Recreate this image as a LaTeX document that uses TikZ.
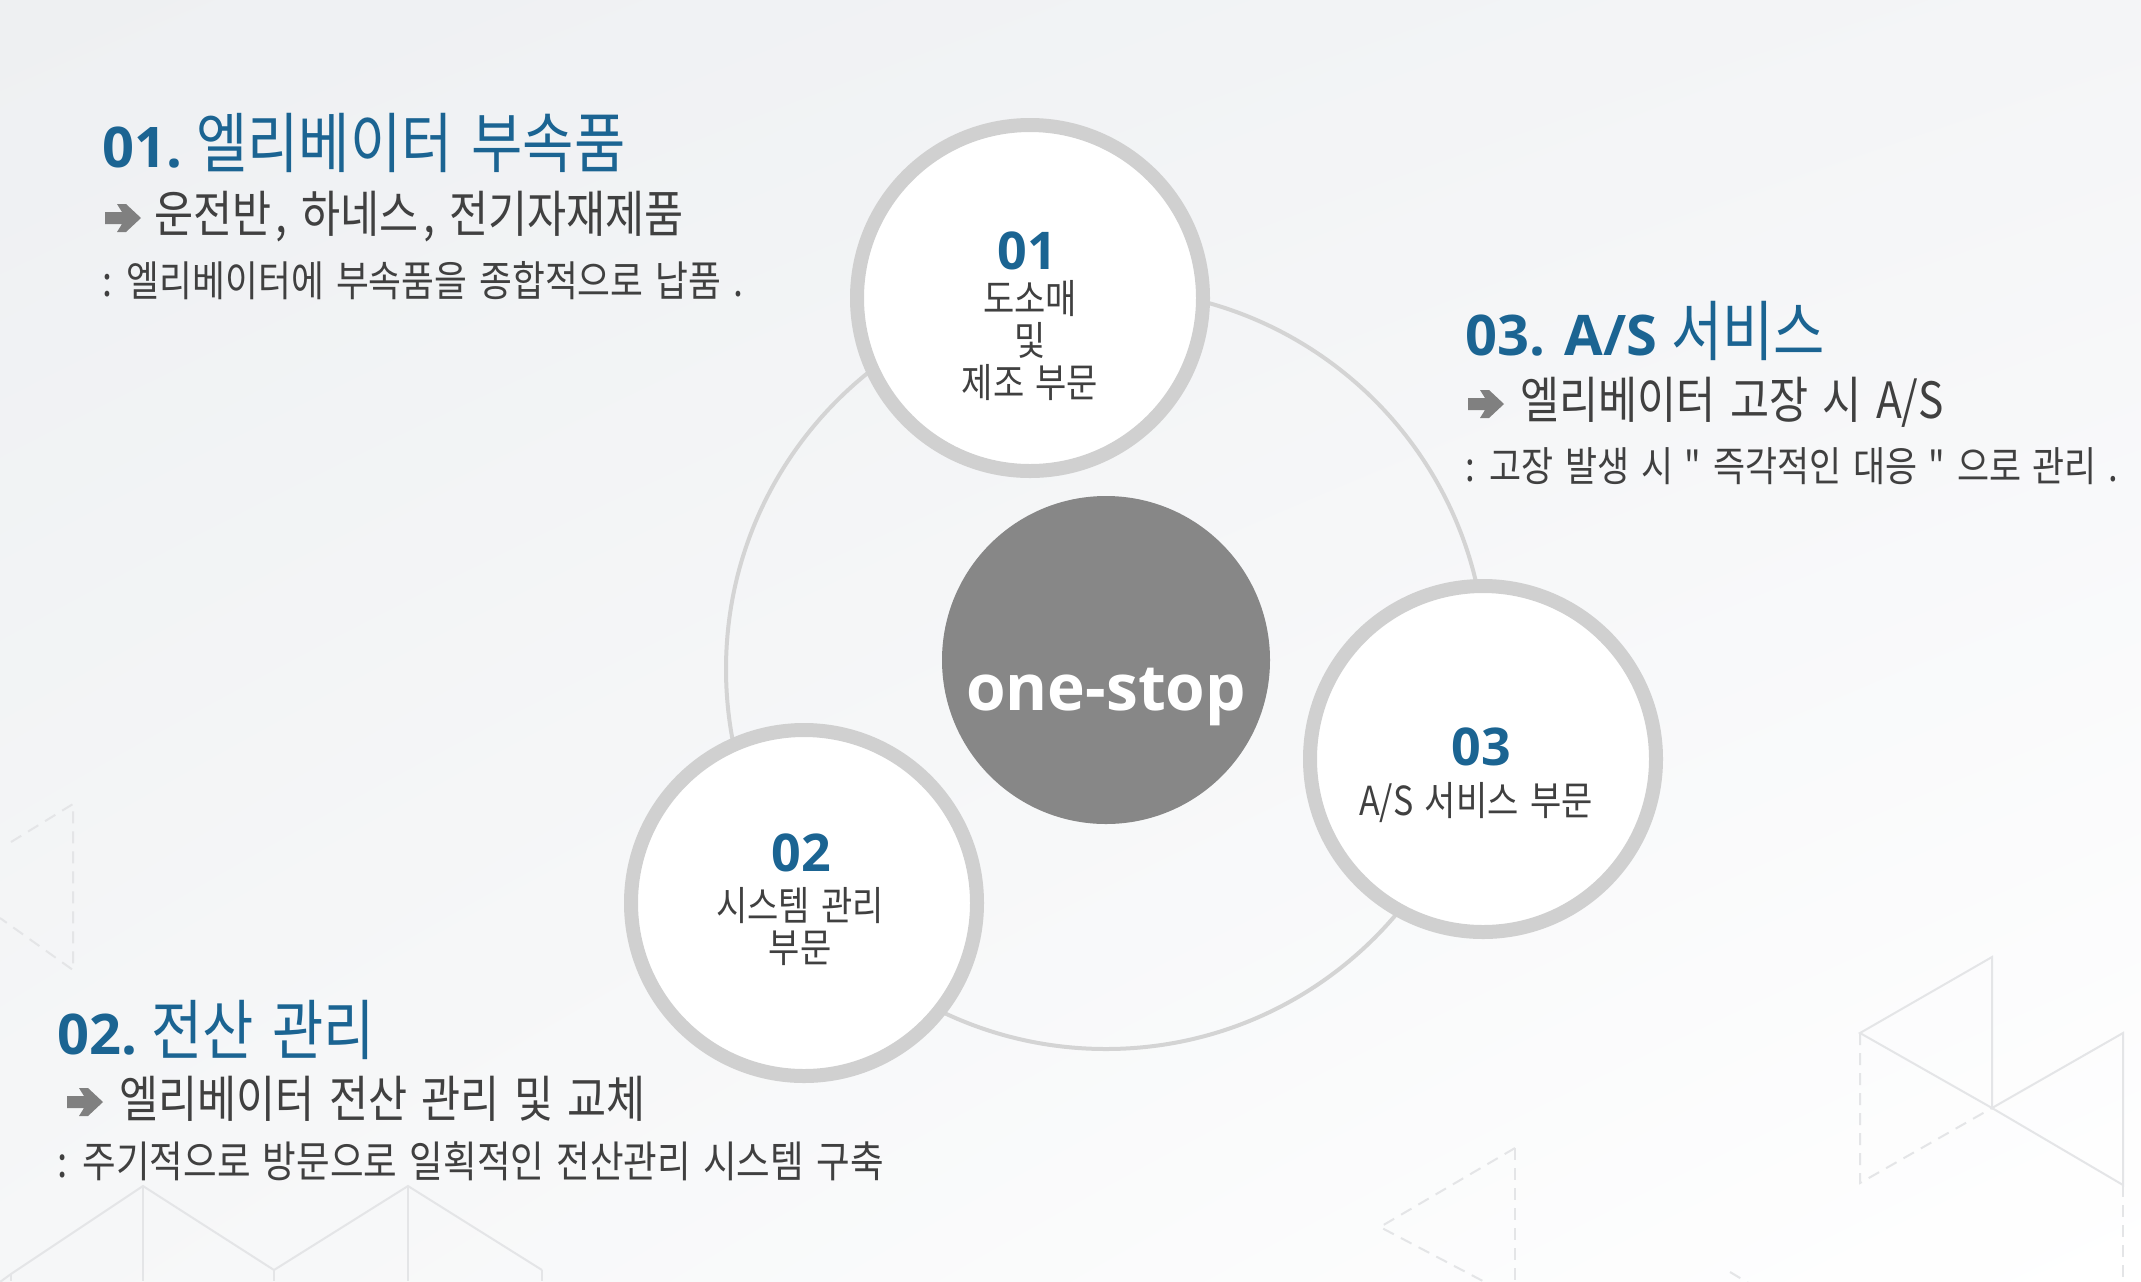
\documentclass[tikz,border=0pt]{standalone}
\usepackage{fontspec}
\usetikzlibrary{shadings}
\newfontfamily\kr[FakeStretch=0.85,WordSpace=1.5]{Noto Sans CJK KR}
\newfontfamily\os{Open Sans}
\definecolor{bgA}{HTML}{EEF0F2}
\definecolor{bgB}{HTML}{F4F5F7}
\definecolor{bgC}{HTML}{F6F7F8}
\definecolor{blueT}{HTML}{1B6492}
\definecolor{darkT}{HTML}{404040}
\definecolor{arrowG}{HTML}{808080}
\definecolor{hubG}{HTML}{878787}
\definecolor{ringG}{HTML}{D0D0D0}
\definecolor{thinG}{HTML}{D4D4D4}
\definecolor{decoG}{HTML}{E4E5E7}
\tikzset{
  ringnode/.style={circle, draw=ringG, line width=7pt, fill=white, inner sep=0pt, minimum size=173pt},
  hubnode/.style={circle, fill=hubG, inner sep=0pt, minimum size=164pt},
  head/.style={font=\kr\fontsize{32.8}{36}\selectfont, text=blueT, inner sep=0pt, anchor=base west},
  subline/.style={font=\kr\fontsize{25}{29}\selectfont, text=darkT, inner sep=0pt, anchor=base west},
  noteline/.style={font=\kr\fontsize{21}{25}\selectfont, text=darkT, inner sep=0pt, anchor=base west},
  cnum/.style={font=\os\bfseries\fontsize{26}{30}\selectfont, text=blueT, inner sep=0pt, anchor=base},
  ctext/.style={font=\kr\fontsize{20}{24}\selectfont, text=darkT, inner sep=0pt, anchor=base},
  hubtext/.style={font=\os\bfseries\fontsize{32}{36}\selectfont, text=white, inner sep=0pt, anchor=base},
  deco/.style={draw=decoG, line width=1pt},
  decodash/.style={draw=decoG, line width=1pt, dash pattern=on 6pt off 4pt},
  bigarrow/.style={fill=arrowG},
}
\newcommand{\hdnum}[1]{{\os\bfseries\fontsize{28}{32}\selectfont #1}\hspace{7pt}}
\newcommand{\cm}{\hspace{2pt},}
\begin{document}
\begin{tikzpicture}[x=0.5pt,y=-0.5pt]
\useasboundingbox (0,0) rectangle (2141,1281);
\shade[upper left=bgA, upper right=bgB, lower left=bgC, lower right=white] (0,0) rectangle (2141,1281);

% faint background decoration
\draw[deco] (1860,1033) -- (1992,957) -- (1992,1108) -- cycle;
\draw[deco] (1992,1108) -- (2123,1033) -- (2123,1185) -- cycle;
\draw[decodash] (1860,1033) -- (1860,1183) -- (1992,1108);
\draw[decodash] (2123,1185) -- (2123,1281);
\draw[decodash] (1515,1148) -- (1380,1227) -- (1500,1290);
\draw[decodash] (1515,1148) -- (1515,1281);
\draw[decodash] (1730,1272) -- (1760,1290);
\draw[decodash] (11,842) -- (73,804) -- (73,970) -- (0,918);
\draw[deco] (0,1282) -- (11,1274) -- (143,1186) -- (274,1270) -- (408,1186) -- (542,1270);
\draw[deco] (143,1186) -- (143,1281);
\draw[deco] (408,1186) -- (408,1281);
\draw[deco] (11,1274) -- (11,1281);
\draw[deco] (274,1270) -- (274,1281);
\draw[deco] (542,1270) -- (542,1281);

% thin ring
\coordinate (ringc) at (1106,669);
\draw[draw=thinG, line width=2pt] (ringc) circle [radius=190pt];

% circles
\node[ringnode] (c1) at (1030,298) {};
\node[ringnode] (c2) at (804,903) {};
\node[ringnode] (c3) at (1483,759) {};
\node[hubnode] (hub) at (1106,660) {};
\node[hubtext] (hubt) at (1106,710) {one-stop};

% circle labels
\node[cnum] (n1) at (1027,269) {01};
\node[ctext] (t1a) at (1030,313) {도소매};
\node[ctext] (t1b) at (1030,355) {및};
\node[ctext] (t1c) at (1030,397) {제조 부문};

\node[cnum] (n2) at (801,871) {02};
\node[ctext] (t2a) at (800,920) {시스템 관리};
\node[ctext] (t2b) at (800,962) {부문};

\node[cnum] (n3) at (1481,765) {03};
\node[ctext] (t3a) at (1476,815) {A/S 서비스 부문};

% arrows
\foreach \ax/\ay in {105/218, 1468/404, 67/1102}{
  \fill[bigarrow, shift={(\ax,\ay)}] (0,-6) -- (17,-6) -- (12,-14) -- (21,-14) -- (36,0)
     -- (21,14) -- (12,14) -- (17,6) -- (0,6) -- cycle;
}

% text block 01
\node[head] (h1) at (102,167) {\hdnum{01.}엘리베이터 부속품};
\node[subline] (s1) at (154,232) {운전반\cm{} 하네스\cm{} 전기자재제품};
\node[noteline] (d1) at (102,296) {: 엘리베이터에 부속품을 종합적으로 납품 .};

% text block 03
\node[head] (h3) at (1465,355) {\hdnum{03. A/S}서비스};
\node[subline] (s3) at (1520,418) {엘리베이터 고장 시 A/S};
\node[noteline, font=\kr\fontsize{20.5}{25}\selectfont] (d3) at (1465,481) {: 고장 발생 시 " 즉각적인 대응 " 으로 관리 .};

% text block 02
\node[head] (h2) at (57,1054) {\hdnum{02.}전산 관리};
\node[subline] (s2) at (119,1117) {엘리베이터 전산 관리 및 교체};
\node[noteline, font=\kr\fontsize{21.5}{25}\selectfont] (d2) at (57,1177) {: 주기적으로 방문으로 일획적인 전산관리 시스템 구축};
\end{tikzpicture}
\end{document}
